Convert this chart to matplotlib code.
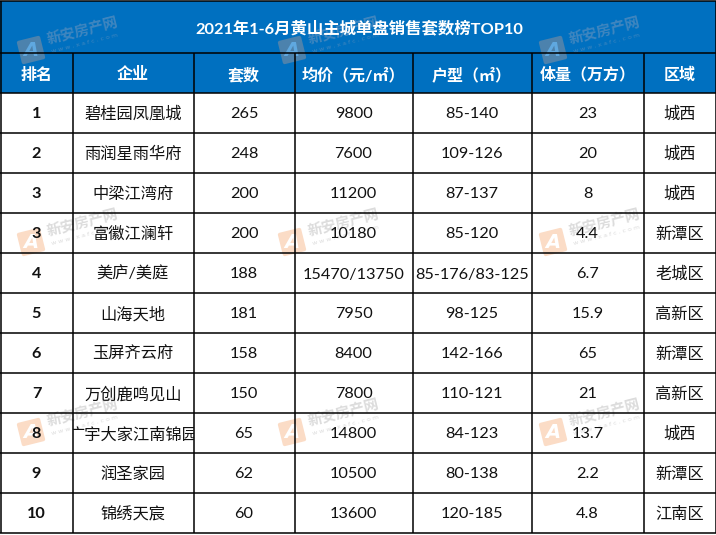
import matplotlib
matplotlib.use("Agg")  # headless backend

import matplotlib.pyplot as plt
from matplotlib.patches import FancyBboxPatch, Rectangle
from matplotlib.transforms import Affine2D

TITLE = "2021年1-6月黄山主城单盘销售套数榜TOP10"
HEADERS = ["排名", "企业", "套数", "均价（元/㎡）", "户型（㎡）", "体量（万方）", "区域"]

ranks = ["1", "2", "3", "3", "4", "5", "6", "7", "8", "9", "10"]
names = ["碧桂园凤凰城", "雨润星雨华府", "中梁江湾府", "富徽江澜轩", "美庐/美庭", "山海天地",
         "玉屏齐云府", "万创鹿鸣见山", "广宇大家江南锦园", "润圣家园", "锦绣天宸"]
units = [265, 248, 200, 200, 188, 181, 158, 150, 65, 62, 60]
prices = ["9800", "7600", "11200", "10180", "15470/13750", "7950", "8400", "7800", "14800", "10500", "13600"]
layouts = ["85-140", "109-126", "87-137", "85-120", "85-176/83-125", "98-125", "142-166",
           "110-121", "84-123", "80-138", "120-185"]
volumes = ["23", "20", "8", "4.4", "6.7", "15.9", "65", "21", "13.7", "2.2", "4.8"]
zones = ["城西", "城西", "城西", "新潭区", "老城区", "高新区", "新潭区", "高新区", "城西", "新潭区", "江南区"]

# layout in pixels
COL_X = [0.5, 72.5, 193.5, 294.5, 412.5, 531.5, 643.5, 715.5]
TITLE_TOP, HEAD_TOP, BODY_TOP, ROW_H = 0.5, 53, 93, 40
BLUE = "#0070C0"
FONT = ["Lato", "Noto Sans CJK SC", "DejaVu Sans"]

plt.rcParams["font.family"] = FONT

fig = plt.figure(figsize=(7.16, 5.35), dpi=100)
ax = fig.add_axes([0, 0, 1, 1])
ax.set_xlim(0, 716)
ax.set_ylim(535, 0)
ax.axis("off")

n_rows = len(ranks)
bottom = BODY_TOP + ROW_H * n_rows

ax.add_patch(Rectangle((0, TITLE_TOP), 716, BODY_TOP - TITLE_TOP, color=BLUE, lw=0, zorder=1))


def watermark(x, y, tile, text_color, a_color):
    # x, y is the centre of the logo tile
    rot = Affine2D().rotate_deg_around(x, y, -14) + ax.transData
    ax.add_patch(FancyBboxPatch((x - 11, y - 11), 22, 22, boxstyle="round,pad=1,rounding_size=2",
                                fc=tile, ec="none", transform=rot, zorder=2))
    ax.text(x, y, "A", color=a_color, fontsize=14, fontweight="bold", style="italic",
            ha="center", va="center", zorder=2, family="DejaVu Sans")
    ax.text(x + 52, y - 18, "新安房产网", color=text_color, fontsize=10.5, fontweight="bold", rotation=14,
            ha="center", va="center", zorder=2)
    ax.text(x + 54, y - 7, "w w w . x a f c . c o m", color=text_color, fontsize=4.5, rotation=14,
            ha="center", va="center", zorder=2, family="DejaVu Sans")


for wx in [31, 292, 553]:
    watermark(wx, 50, "#4c82ad", "#3f86bf", "#5fa8e0")
    watermark(wx, 242, "#fbdcc6", "#dcdcdc", "#ffffff")
    watermark(wx, 432, "#fbdcc6", "#dcdcdc", "#ffffff")

# grid
ax.hlines([TITLE_TOP, HEAD_TOP, BODY_TOP] + [BODY_TOP + ROW_H * (i + 1) for i in range(n_rows)],
          0, 716, color="black", lw=1.1, zorder=3)
ax.vlines([COL_X[0], COL_X[-1]], TITLE_TOP, bottom, color="black", lw=1.1, zorder=3)
ax.vlines(COL_X[1:-1], HEAD_TOP, bottom, color="black", lw=1.1, zorder=3)

ax.text(359, 28, TITLE, color="white", fontsize=11.8, fontweight="bold", ha="center", va="center", zorder=4)

centers = [(COL_X[i] + COL_X[i + 1]) / 2 for i in range(len(COL_X) - 1)]
for cx, head in zip(centers, HEADERS):
    ax.text(cx, 75, head, color="white", fontsize=11.5, fontweight="bold", ha="center", va="center", zorder=4)

columns = [ranks, names, units, prices, layouts, volumes, zones]
for c, values in enumerate(columns):
    for r, value in enumerate(values):
        y = BODY_TOP + ROW_H * r + ROW_H / 2 + 1.5
        t = ax.text(centers[c], y, str(value), color="#111111", fontsize=11.7,
                    fontweight="bold" if c == 0 else "normal",
                    ha="center", va="center", zorder=4)
        # long names get cut at the cell edge
        t.set_clip_path(Rectangle((COL_X[c], y - 20), COL_X[c + 1] - COL_X[c], 40, transform=ax.transData))
        t.set_clip_on(True)

fig.savefig("out.png", dpi=100, facecolor="white")
